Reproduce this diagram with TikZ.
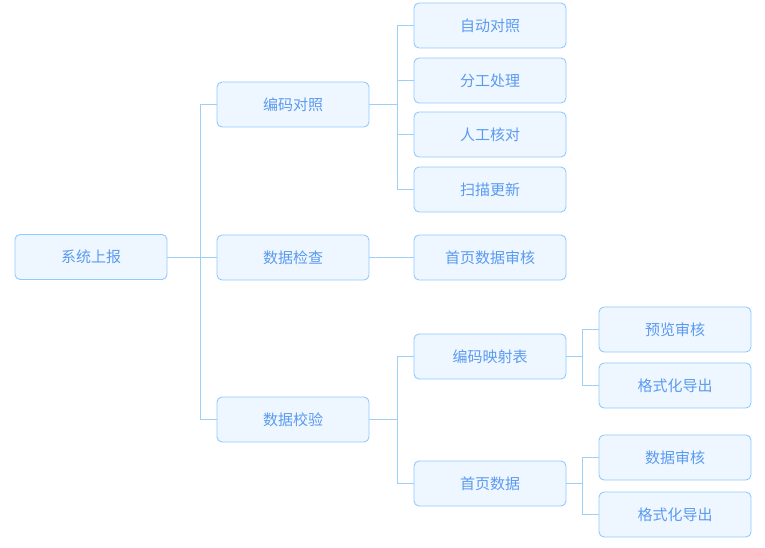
\documentclass[tikz,border=0pt]{standalone}
\usepackage{fontspec}
\newfontfamily\cjk{Noto Sans CJK SC}
\definecolor{bg}{HTML}{EEF6FF}
\definecolor{bd}{HTML}{91CAFF}
\definecolor{tx}{HTML}{5B9BEF}
\definecolor{ln}{HTML}{9ECFF5}
\begin{document}
\begin{tikzpicture}[x=1pt,y=-1pt,
  box/.style={draw=bd,fill=bg,line width=0.9pt,rounded corners=5pt,minimum width=152pt,minimum height=45pt,inner sep=0pt,text=tx,font=\cjk\fontsize{15}{18}\selectfont},
  link/.style={draw=ln,line width=0.9pt}]
\useasboundingbox (0,0) rectangle (765,548);
\node[box] (root) at (91,257) {系统上报};
\node[box] (a) at (293,104.5) {编码对照};
\node[box] (b) at (293,257.5) {数据检查};
\node[box] (c) at (293,419.5) {数据校验};
\node[box] (a1) at (490,25.5) {自动对照};
\node[box] (a2) at (490,80.5) {分工处理};
\node[box] (a3) at (490,134.5) {人工核对};
\node[box] (a4) at (490,189.5) {扫描更新};
\node[box] (b1) at (490,257.5) {首页数据审核};
\node[box] (c1) at (490,356.5) {编码映射表};
\node[box] (c2) at (490,483.5) {首页数据};
\node[box] (c11) at (675,329.5) {预览审核};
\node[box] (c12) at (675,385.5) {格式化导出};
\node[box] (c21) at (675,457.5) {数据审核};
\node[box] (c22) at (675,514.5) {格式化导出};
\foreach \c in {a,b,c} \draw[link] (root.east) -- ++(33,0) |- (\c.west);
\foreach \c in {a1,a2,a3,a4} \draw[link] (a.east) -- ++(28,0) |- (\c.west);
\draw[link] (b.east) -- (b1.west);
\foreach \c in {c1,c2} \draw[link] (c.east) -- ++(28,0) |- (\c.west);
\foreach \c in {c11,c12} \draw[link] (c1.east) -- ++(16,0) |- (\c.west);
\foreach \c in {c21,c22} \draw[link] (c2.east) -- ++(16,0) |- (\c.west);
\end{tikzpicture}
\end{document}
